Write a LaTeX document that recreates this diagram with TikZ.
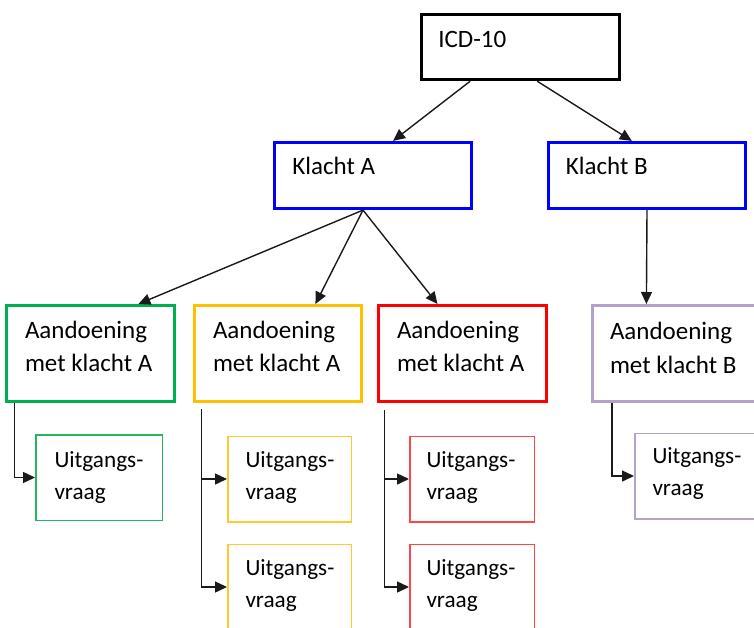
\documentclass[tikz,border=0pt]{standalone}
\usepackage{fontspec}
\setmainfont{Carlito}
\usetikzlibrary{arrows.meta,calc}
\definecolor{cblue}{HTML}{0000FF}
\definecolor{cgreen}{HTML}{00B050}
\definecolor{cyellow}{HTML}{FFC000}
\definecolor{cred}{HTML}{FF0000}
\definecolor{cpurple}{HTML}{B3A2C7}
\definecolor{cgreenl}{HTML}{20B858}
\definecolor{cyellowl}{HTML}{FFC830}
\definecolor{credl}{HTML}{FF4545}
\definecolor{cline}{HTML}{1A1A1A}
\begin{document}
\begin{tikzpicture}[x=1pt,y=-1pt,
  bigtxt/.style={font=\fontsize{25}{33.5}\selectfont, align=left, anchor=north west,
    inner sep=0pt, outer sep=0pt, text height=18pt},
  smalltxt/.style={font=\fontsize{23.2}{32}\selectfont, align=left, anchor=north west,
    inner sep=0pt, outer sep=0pt, text height=16pt},
  topbox/.style={draw, rectangle, inner sep=0pt, line width=3.2pt, minimum height=66pt},
  condbox/.style={draw, rectangle, inner sep=0pt, line width=3pt,
    minimum width=168pt, minimum height=96pt},
  qbox/.style={draw, rectangle, inner sep=0pt, line width=1.5pt, minimum height=85.5pt},
  conn/.style={draw=cline, line width=1.4pt, -{Triangle[length=12pt,width=11pt]}}
]
\useasboundingbox (0,0) rectangle (754,627);

% top level
\node[topbox, draw=black, line width=3.4pt, minimum width=198pt, minimum height=65pt] (icd) at (520.5,47) {};
\node[bigtxt, text height=16pt] (icdt) at ($(icd.north west)+(18.5,19)$) {ICD-10};

\node[topbox, draw=cblue, minimum width=197pt] (ka) at (373,175.5) {};
\node[bigtxt, text height=16pt] (kat) at ($(ka.north west)+(19.5,18)$) {Klacht A};
\node[topbox, draw=cblue, minimum width=197pt] (kb) at (647,175.5) {};
\node[bigtxt, text height=16pt] (kbt) at ($(kb.north west)+(19,18)$) {Klacht B};

% conditions (multi-line: the node top is the top of its last line)
\node[condbox, draw=cgreen] (ag) at (90.5,353.5) {};
\node[bigtxt] (agt) at ($(ag.north west)+(20,49.5)$) {Aandoening\\met klacht A};
\node[condbox, draw=cyellow, minimum width=167pt] (ay) at (278,353.5) {};
\node[bigtxt] (ayt) at ($(ay.north west)+(20,49.5)$) {Aandoening\\met klacht A};
\node[condbox, draw=cred] (ar) at (462.5,353.5) {};
\node[bigtxt] (art) at ($(ar.north west)+(20,49.5)$) {Aandoening\\met klacht A};
\node[condbox, draw=cpurple] (ap) at (676.5,353.5) {};
\node[bigtxt] (apt) at ($(ap.north west)+(19,51)$) {Aandoening\\met klacht B};

% questions
\node[qbox, draw=cgreenl, minimum width=126.5pt] (ug) at (99,477.5) {};
\node[smalltxt] (ugt) at ($(ug.north west)+(19.5,49)$) {Uitgangs-\\vraag};
\node[qbox, draw=cyellowl, minimum width=123.5pt] (uy1) at (289.5,479) {};
\node[smalltxt] (uy1t) at ($(uy1.north west)+(18.5,48)$) {Uitgangs-\\vraag};
\node[qbox, draw=cyellowl, minimum width=123.5pt] (uy2) at (289.5,587) {};
\node[smalltxt] (uy2t) at ($(uy2.north west)+(18.5,48)$) {Uitgangs-\\vraag};
\node[qbox, draw=credl, minimum width=124.5pt] (ur1) at (472,479) {};
\node[smalltxt] (ur1t) at ($(ur1.north west)+(17.5,48)$) {Uitgangs-\\vraag};
\node[qbox, draw=credl, minimum width=124.5pt] (ur2) at (472,587) {};
\node[smalltxt] (ur2t) at ($(ur2.north west)+(17.5,48)$) {Uitgangs-\\vraag};
\node[qbox, draw=cpurple, minimum width=126.5pt] (up) at (698,476) {};
\node[smalltxt] (upt) at ($(up.north west)+(18.5,47)$) {Uitgangs-\\vraag};

% connectors top
\draw[conn] ($(icd.south west)!0.25!(icd.south east)$) -- ($(ka.north west)!0.6!(ka.north east)$);
\draw[conn] ($(icd.south west)!0.583!(icd.south east)$) -- ($(kb.north west)!0.424!(kb.north east)$);

\coordinate (kas) at ($(ka.south west)!0.45!(ka.south east)$);
\draw[conn] (kas) -- ($(ag.north west)!0.78!(ag.north east)$);
\draw[conn] (kas) -- ($(ay.north west)!0.72!(ay.north east)$);
\draw[conn] (kas) -- ($(ar.north west)!0.354!(ar.north east)$);
\draw[conn] (kb.south) -- ($(ap.north west)!0.324!(ap.north east)$);

% connectors bottom
\draw[conn] ($(ag.south west)!0.057!(ag.south east)$) |- (ug.west);

\coordinate (ys) at ($(ay.south west)!0.051!(ay.south east)+(0,6)$);
\draw[conn] (ys) |- (uy1.west);
\draw[conn] (ys) |- (uy2.west);

\coordinate (rs) at ($(ar.south west)!0.045!(ar.south east)+(0,7)$);
\draw[conn] (rs) |- (ur1.west);
\draw[conn] (rs) |- (ur2.west);

\draw[conn] ($(ap.south west)!0.122!(ap.south east)$) |- (up.west);
\end{tikzpicture}
\end{document}
